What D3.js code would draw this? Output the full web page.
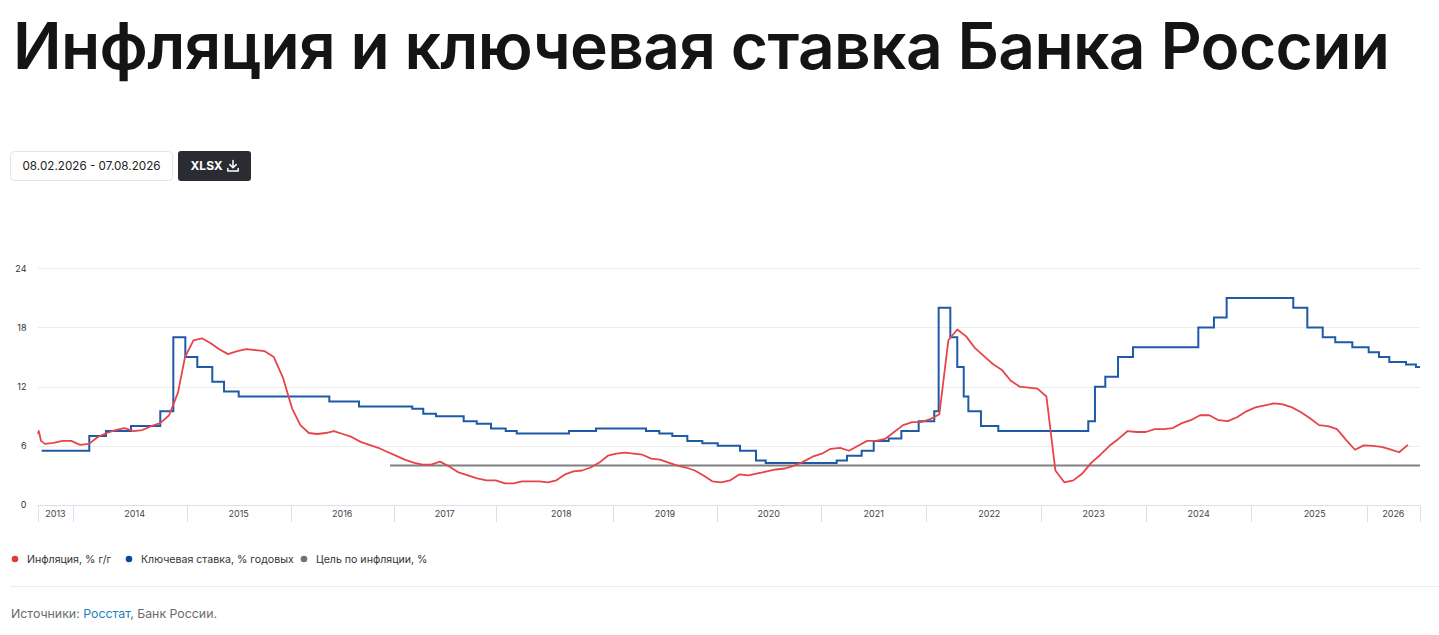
<!DOCTYPE html>
<html>
<head>
<meta charset="utf-8">
<script src="https://cdn.jsdelivr.net/npm/d3@7"></script>
<style>
  html, body { margin: 0; padding: 0; background: #fff; }
  svg { display: block; font-family: Inter, "Noto Sans", "Liberation Sans", sans-serif; }
</style>
</head>
<body>
<svg id="chart" width="1439" height="635"></svg>
<script>
// ---------------- DATA ----------------
// Time is expressed in decimal years.
const titleText = "Инфляция и ключевая ставка Банка России";
const dateRangeText = "08.02.2026 - 07.08.2026";
const seriesNames = ["Инфляция, % г/г", "Ключевая ставка, % годовых", "Цель по инфляции, %"];
const yTickValues = [0, 6, 12, 18, 24];
const yearLabels = [2013, 2014, 2015, 2016, 2017, 2018, 2019, 2020, 2021, 2022, 2023, 2024, 2025, 2026];
const axisBreaks = [2013.667, 2014, 2015, 2016, 2017, 2018, 2019, 2020, 2021, 2022, 2023, 2024, 2025, 2026, 2026.46];

const inflationDates = [
  2013.670, 2013.677, 2013.698, 2013.735, 2013.815, 2013.899, 2013.981,
  2014.059, 2014.138, 2014.216, 2014.295, 2014.373, 2014.451, 2014.531, 2014.609, 2014.688, 2014.766, 2014.845, 2014.923,
  2014.985, 2015.065, 2015.147, 2015.231, 2015.313, 2015.397, 2015.486, 2015.573, 2015.662, 2015.750, 2015.838, 2015.926,
  2016.013, 2016.094, 2016.176, 2016.257, 2016.339, 2016.420, 2016.506, 2016.592, 2016.678, 2016.763, 2016.850, 2016.935,
  2017.021, 2017.108, 2017.194, 2017.280, 2017.368, 2017.454, 2017.545, 2017.636, 2017.727, 2017.818, 2017.909, 2018.000,
  2018.079, 2018.152, 2018.224, 2018.298, 2018.371, 2018.444, 2018.516, 2018.589, 2018.662, 2018.735, 2018.808, 2018.881,
  2018.954, 2019.030, 2019.113, 2019.197, 2019.282, 2019.367, 2019.451, 2019.535, 2019.620, 2019.704, 2019.788, 2019.872,
  2019.957, 2020.041, 2020.130, 2020.217, 2020.306, 2020.393, 2020.482, 2020.569, 2020.658, 2020.745, 2020.834, 2020.921,
  2021.010, 2021.096, 2021.184, 2021.270, 2021.356, 2021.442, 2021.528, 2021.613, 2021.699, 2021.786, 2021.871, 2021.957,
  2022.039, 2022.118, 2022.196, 2022.273, 2022.350, 2022.427, 2022.504, 2022.581, 2022.659, 2022.736, 2022.813, 2022.890,
  2022.967, 2023.049, 2023.135, 2023.220, 2023.307, 2023.394, 2023.480, 2023.567, 2023.653, 2023.739, 2023.827, 2023.913,
  2024.000, 2024.086, 2024.172, 2024.258, 2024.345, 2024.430, 2024.517, 2024.606, 2024.693, 2024.782, 2024.870, 2024.958,
  2025.041, 2025.122, 2025.201, 2025.278, 2025.356, 2025.434, 2025.511, 2025.589, 2025.666, 2025.744, 2025.822, 2025.899,
  2025.975, 2026.052, 2026.128, 2026.203, 2026.280, 2026.356
];
const inflationValues = [
  7.2, 7.5, 6.5, 6.2, 6.3, 6.5, 6.5,
  6.1, 6.2, 6.9, 7.3, 7.6, 7.8, 7.5, 7.6, 8.0, 8.3, 9.1, 11.4,
  15.0, 16.7, 16.9, 16.4, 15.8, 15.3, 15.6, 15.8, 15.7, 15.6, 15.0, 12.9,
  9.8, 8.1, 7.3, 7.2, 7.3, 7.5, 7.2, 6.9, 6.4, 6.1, 5.8, 5.4,
  5.0, 4.6, 4.3, 4.1, 4.1, 4.4, 3.9, 3.3, 3.0, 2.7, 2.5, 2.5,
  2.2, 2.2, 2.4, 2.4, 2.4, 2.3, 2.5, 3.1, 3.4, 3.5, 3.8, 4.3,
  5.0, 5.2, 5.3, 5.2, 5.1, 4.7, 4.6, 4.3, 4.0, 3.8, 3.5, 3.0,
  2.4, 2.3, 2.5, 3.1, 3.0, 3.2, 3.4, 3.6, 3.7, 4.0, 4.4, 4.9,
  5.2, 5.7, 5.8, 5.5, 6.0, 6.5, 6.5, 6.7, 7.4, 8.1, 8.4, 8.4,
  8.7, 9.2, 16.7, 17.8, 17.1, 15.9, 15.1, 14.3, 13.7, 12.6, 12.0, 11.9,
  11.8, 11.0, 3.5, 2.3, 2.5, 3.2, 4.3, 5.1, 6.0, 6.7, 7.5, 7.4,
  7.4, 7.7, 7.7, 7.8, 8.3, 8.6, 9.1, 9.1, 8.6, 8.5, 8.9, 9.5,
  9.9, 10.1, 10.3, 10.2, 9.9, 9.4, 8.8, 8.1, 8.0, 7.7, 6.6, 5.6,
  6.05, 6.0, 5.9, 5.65, 5.35, 6.1
];

const keyRateDates = [
  2013.704, 2014.141, 2014.288, 2014.509, 2014.767, 2014.882, 2014.988, 2015.102, 2015.246, 2015.359, 2015.500,
  2016.375, 2016.663, 2017.182, 2017.290, 2017.415, 2017.686, 2017.814, 2017.954, 2018.085, 2018.179, 2018.623,
  2018.853, 2019.316, 2019.445, 2019.571, 2019.716, 2019.861, 2020.010, 2020.224, 2020.378, 2020.471, 2021.152,
  2021.250, 2021.390, 2021.505, 2021.648, 2021.768, 2021.933, 2022.074, 2022.112, 2022.213, 2022.273, 2022.329,
  2022.369, 2022.478, 2022.628, 2023.450, 2023.514, 2023.613, 2023.735, 2023.878, 2024.501, 2024.650, 2024.771,
  2025.367, 2025.488, 2025.621, 2025.729, 2025.876, 2026.017, 2026.106, 2026.195, 2026.339, 2026.425, 2026.460
];
const keyRateValues = [
  5.5, 7.0, 7.5, 8.0, 9.5, 17.0, 15.0, 14.0, 12.5, 11.5, 11.0,
  10.5, 10.0, 9.75, 9.25, 9.0, 8.5, 8.25, 7.75, 7.5, 7.25, 7.5,
  7.75, 7.5, 7.25, 7.0, 6.5, 6.25, 6.0, 5.5, 4.5, 4.25, 4.5,
  5.0, 5.5, 6.5, 6.75, 7.5, 8.5, 9.5, 20.0, 17.0, 14.0, 11.0,
  9.5, 8.0, 7.5, 8.5, 12.0, 13.0, 15.0, 16.0, 18.0, 19.0, 21.0,
  20.0, 18.0, 17.0, 16.5, 16.0, 15.5, 15.0, 14.5, 14.25, 14.0, 14.0
];

const targetDates = [2016.964, 2026.46];
const targetValues = [4, 4];

// ---------------- LAYOUT ----------------
const axisBreakPixels = [37.7, 73.3, 186.7, 290.7, 393.7, 495.7, 613.3, 716.7, 820.7, 925.7, 1041.3, 1145.7, 1250.7, 1366.7, 1420];
const plotTop = 268.3, plotBottom = 505, plotLeft = 37.7, plotRight = 1420;
const legendOffsets = [0, 114, 289];
const colors = { infl: "#e6444a", rate: "#1f5aa6", target: "#808080",
                 dotInfl: "#e53935", dotRate: "#0d47a1", dotTarget: "#6b7280" };

const svg = d3.select("#chart");

const x = d3.scaleLinear().domain(axisBreaks).range(axisBreakPixels);
const y = d3.scaleLinear().domain([0, 24]).range([plotBottom, plotTop]);

// ---------------- TITLE ----------------
const title = svg.append("text")
  .attr("x", 13).attr("y", 69)
  .attr("font-size", 64).attr("font-weight", 600)
  .attr("fill", "#141414")
  .text(titleText);
{
  const w = title.node().getComputedTextLength();
  const target = 1377;
  const ls = (target - w) / (titleText.length - 1);
  title.attr("letter-spacing", ls.toFixed(3));
}

// ---------------- CONTROLS ----------------
svg.append("rect").attr("x", 10.5).attr("y", 151.5).attr("width", 162).attr("height", 29)
  .attr("rx", 4).attr("fill", "#fff").attr("stroke", "#e4e4e7");
svg.append("text").attr("x", 22.5).attr("y", 170).attr("font-size", 11.7).attr("fill", "#222")
  .text(dateRangeText);
svg.append("rect").attr("x", 178).attr("y", 151).attr("width", 73).attr("height", 30)
  .attr("rx", 3).attr("fill", "#2a2c31");
svg.append("text").attr("x", 190.5).attr("y", 170).attr("font-size", 12).attr("font-weight", 700)
  .attr("fill", "#fff").text("XLSX");
const icon = svg.append("g").attr("stroke", "#fff").attr("stroke-width", 1.5).attr("fill", "none")
  .attr("stroke-linecap", "round").attr("stroke-linejoin", "round");
icon.append("path").attr("d", "M233 160.5 V167.5 M229.8 164.6 L233 167.8 L236.2 164.6");
icon.append("path").attr("d", "M227.8 168.5 V171 H238.2 V168.5");

// ---------------- GRID + AXES ----------------
const grid = svg.append("g");
grid.selectAll("line").data(yTickValues.filter(v => v > 0)).join("line")
  .attr("x1", plotLeft).attr("x2", plotRight)
  .attr("y1", d => Math.round(y(d)) + 0.5).attr("y2", d => Math.round(y(d)) + 0.5)
  .attr("stroke", "#ececec").attr("stroke-width", 1);

const yAxis = d3.axisLeft(y).tickValues(yTickValues).tickSize(0).tickPadding(0);
svg.append("g").attr("transform", "translate(26.5,0)").call(yAxis)
  .call(g => g.select(".domain").remove())
  .call(g => g.selectAll("text").attr("font-size", 9).attr("fill", "#333")
    .attr("font-family", "Inter, 'Liberation Sans', sans-serif"));

// x axis: baseline, year boundaries and labels
const axisColor = "#d6e0ef";
const xa = svg.append("g");
xa.append("line").attr("x1", plotLeft).attr("x2", plotRight)
  .attr("y1", plotBottom + 0.5).attr("y2", plotBottom + 0.5)
  .attr("stroke", axisColor).attr("stroke-width", 1.2);
xa.selectAll("line.tick").data(axisBreaks).join("line").attr("class", "tick")
  .attr("x1", d => Math.round(x(d)) + 0.5).attr("x2", d => Math.round(x(d)) + 0.5)
  .attr("y1", plotBottom).attr("y2", plotBottom + 17)
  .attr("stroke", axisColor).attr("stroke-width", 1);
const nominalYear = 104;
xa.selectAll("text").data(yearLabels).join("text")
  .attr("x", yr => {
    const a = x(Math.max(yr, axisBreaks[0]));
    const b = x(Math.min(yr + 1, axisBreaks[axisBreaks.length - 1]));
    const left = Math.max(a, b - nominalYear);
    return (left + b) / 2;
  })
  .attr("y", plotBottom + 11.5)
  .attr("text-anchor", "middle").attr("font-size", 9).attr("fill", "#444")
  .text(d => d);

// ---------------- SERIES ----------------
const inflation = inflationDates.map((t, i) => ({ t, v: inflationValues[i] }));
const keyRate = keyRateDates.map((t, i) => ({ t, v: keyRateValues[i] }));
const target = targetDates.map((t, i) => ({ t, v: targetValues[i] }));

const line = d3.line().x(d => x(d.t)).y(d => y(d.v));
const stepLine = d3.line().x(d => x(d.t)).y(d => y(d.v)).curve(d3.curveStepAfter);

svg.append("path").datum(target).attr("d", line)
  .attr("fill", "none").attr("stroke", colors.target).attr("stroke-width", 2);
svg.append("path").datum(keyRate).attr("d", stepLine)
  .attr("fill", "none").attr("stroke", colors.rate).attr("stroke-width", 2)
  .attr("stroke-linejoin", "miter");
svg.append("path").datum(inflation).attr("d", line)
  .attr("fill", "none").attr("stroke", colors.infl).attr("stroke-width", 1.8)
  .attr("stroke-linejoin", "round");

// ---------------- LEGEND ----------------
const legendItems = [
  { name: seriesNames[0], color: colors.dotInfl },
  { name: seriesNames[1], color: colors.dotRate },
  { name: seriesNames[2], color: colors.dotTarget }
];
const legend = svg.append("g").attr("transform", "translate(15,559)");
legendItems.forEach((item, i) => {
  const g = legend.append("g").attr("transform", `translate(${legendOffsets[i]},0)`);
  g.append("circle").attr("cx", 0).attr("cy", 0).attr("r", 3.3).attr("fill", item.color);
  g.append("text").attr("x", 12).attr("y", 4).attr("font-size", 10.6).attr("fill", "#333")
    .text(item.name);
});

// ---------------- FOOTER ----------------
svg.append("line").attr("x1", 10).attr("x2", 1439).attr("y1", 586.5).attr("y2", 586.5)
  .attr("stroke", "#ececec");
const src = svg.append("text").attr("x", 11).attr("y", 618).attr("font-size", 12.35).attr("fill", "#6b6b6b");
src.append("tspan").text("Источники: ");
src.append("tspan").attr("fill", "#1a82c4").text("Росстат");
src.append("tspan").text(", Банк России.");
</script>
</body>
</html>
